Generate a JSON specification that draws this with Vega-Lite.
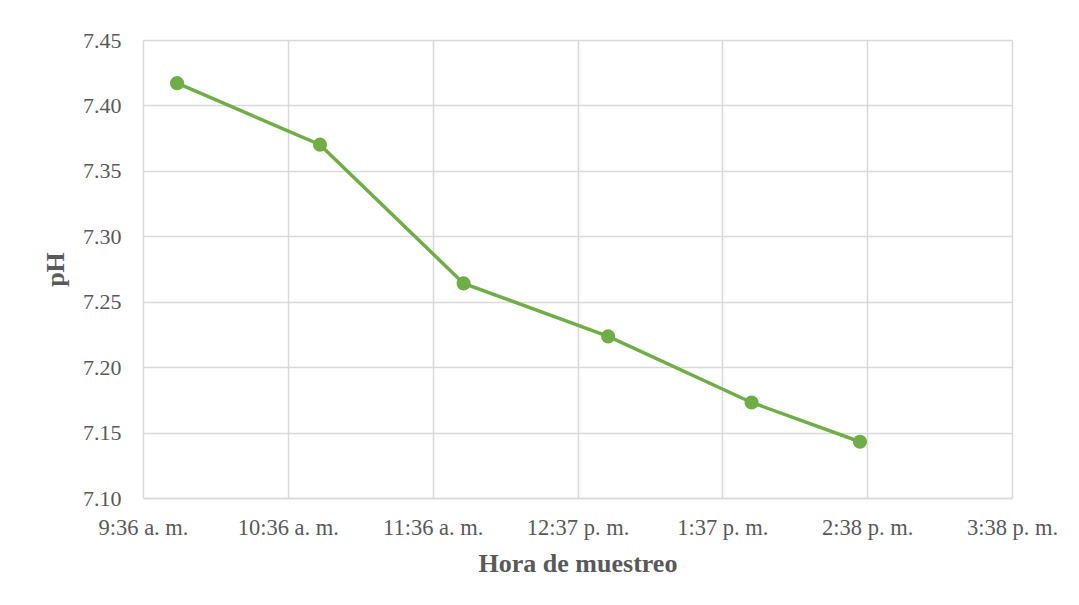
{
  "$schema": "https://vega.github.io/schema/vega-lite/v6.json",
  "autosize": {"type": "none"},
  "padding": {"left": 143, "top": 40, "right": 67, "bottom": 107},
  "width": 869,
  "height": 458,
  "background": "white",
  "data": {
    "values": [
      {"minutos": 590.2, "pH": 7.417},
      {"minutos": 649.8, "pH": 7.370},
      {"minutos": 709.7, "pH": 7.264},
      {"minutos": 770.0, "pH": 7.2235},
      {"minutos": 829.8, "pH": 7.173},
      {"minutos": 875.0, "pH": 7.143}
    ]
  },
  "config": {
    "view": {"stroke": null},
    "font": "Liberation Serif",
    "axis": {
      "labelFont": "Liberation Serif",
      "titleFont": "Liberation Serif",
      "labelColor": "#595959",
      "titleColor": "#595959",
      "gridColor": "#D9D9D9",
      "gridWidth": 1.5,
      "ticks": false
    }
  },
  "encoding": {
    "x": {
      "field": "minutos",
      "type": "quantitative",
      "scale": {"domain": [576, 938.4], "nice": false, "zero": false},
      "axis": {
        "title": "Hora de muestreo",
        "titleFontSize": 26,
        "titleFontWeight": "bold",
        "titlePadding": 12,
        "values": [576, 636.4, 696.8, 757.2, 817.6, 878.0, 938.4],
        "labelExpr": "(floor(datum.value/60) > 12 ? floor(datum.value/60) - 12 : floor(datum.value/60)) + ':' + (floor(datum.value % 60) < 10 ? '0' : '') + floor(datum.value % 60) + (floor(datum.value/60) >= 12 ? ' p. m.' : ' a. m.')",
        "labelFontSize": 22.5,
        "labelPadding": 18,
        "labelFlush": false,
        "labelOverlap": false,
        "domainColor": "#D9D9D9",
        "domainWidth": 1.5
      }
    },
    "y": {
      "field": "pH",
      "type": "quantitative",
      "scale": {"domain": [7.10, 7.45], "nice": false, "zero": false},
      "axis": {
        "title": "pH",
        "titleFontSize": 26,
        "titleFontWeight": "bold",
        "titlePadding": 14,
        "values": [7.10, 7.15, 7.20, 7.25, 7.30, 7.35, 7.40, 7.45],
        "format": ".2f",
        "labelFontSize": 22,
        "labelPadding": 22,
        "labelOverlap": false,
        "domain": false
      }
    }
  },
  "layer": [
    {
      "mark": {"type": "line", "color": "#70AD47", "strokeWidth": 3.5}
    },
    {
      "mark": {"type": "point", "filled": true, "color": "#70AD47", "opacity": 1, "size": 200}
    }
  ]
}
